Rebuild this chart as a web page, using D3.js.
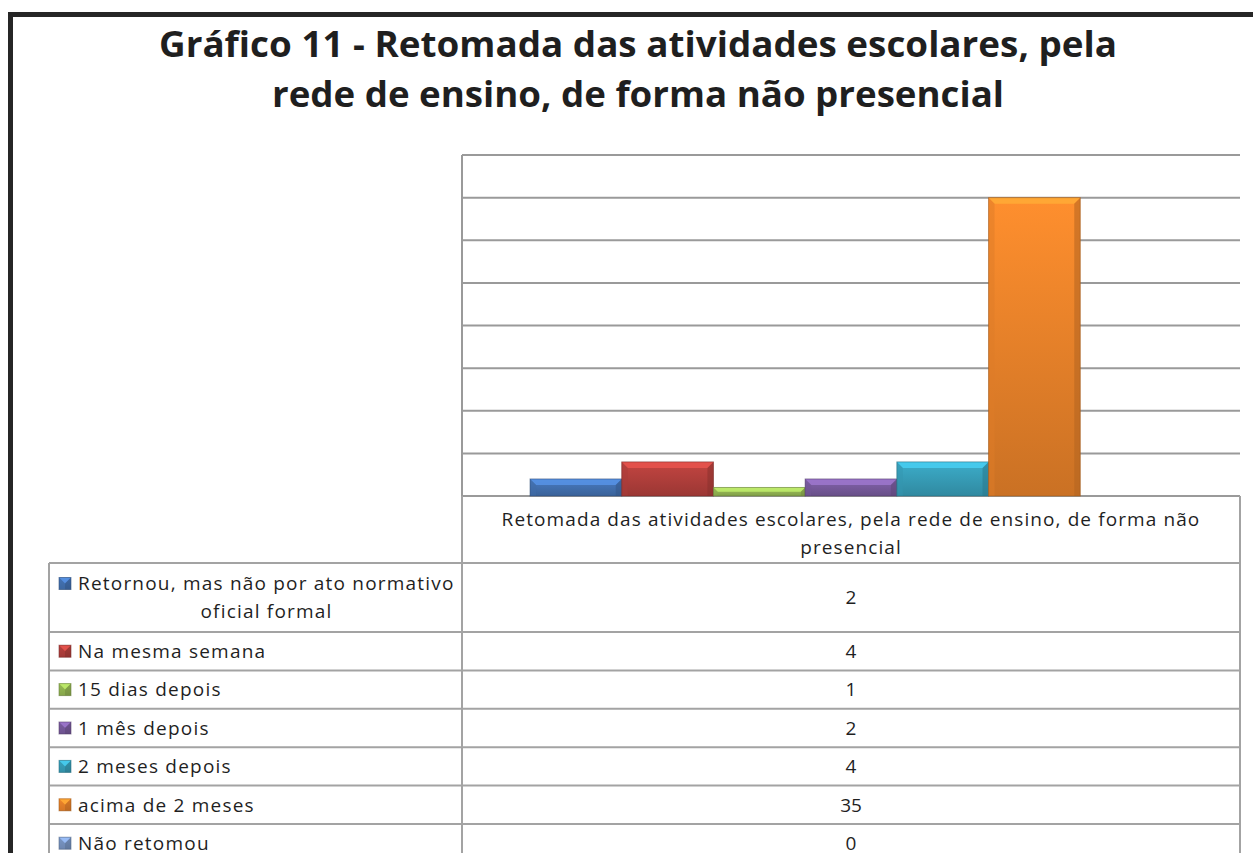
<!DOCTYPE html>
<html><head><meta charset="utf-8">
<script src="https://cdn.jsdelivr.net/npm/d3@7/dist/d3.min.js"></script>
<style>
html,body{margin:0;padding:0;background:#fff;overflow:hidden}
svg{display:block}
text{font-family:"Open Sans",sans-serif;fill:#1f1f1f}
</style></head><body>
<div id="chart"></div>
<script>
// Gráfico 11 — column chart with data table (Excel style)
const titleLines=["Gráfico 11 - Retomada das atividades escolares, pela","rede de ensino, de forma não presencial"];
const categoryName="Retomada das atividades escolares, pela rede de ensino, de forma não presencial";
const categoryLines=["Retomada das atividades escolares, pela rede de ensino, de forma não","presencial"];
const seriesLabels=[["Retornou, mas não por ato normativo","oficial formal"],["Na mesma semana"],["15 dias depois"],["1 mês depois"],["2 meses depois"],["acima de 2 meses"],["Não retomou"]];
const seriesValues=[2,4,1,2,4,35,0];
const seriesColors=["#4677BA","#BC433F","#9CC057","#7F60A6","#3AA7C3","#F68A2C","#7E9CCC"];
const yMax=40,yStep=5;

const W=1253,H=853;
const plot={l:462,r:1240,t:155,b:496};
const tableL=49,headerB=563,firstRowH=69,rowH=38.4;
const gridCol="#9a9a9a";

const svg=d3.select("#chart").append("svg").attr("width",W).attr("height",H);
const defs=svg.append("defs");

// outer frame (cropped on the right and bottom)
svg.append("path").attr("d","M10.5,"+H+"V14.5H"+W)
  .attr("fill","none").attr("stroke","#262626").attr("stroke-width",5);

// title
const titleG=svg.append("g");
const titleW=[958,732];
titleLines.forEach((t,i)=>{
  titleG.append("text").attr("x",638).attr("y",57+i*50)
    .attr("text-anchor","middle").attr("font-size","35px").attr("font-weight","700")
    .attr("fill","#111").attr("textLength",titleW[i]).attr("lengthAdjust","spacingAndGlyphs")
    .text(t);
});

// scales
const y=d3.scaleLinear().domain([0,yMax]).range([plot.b,plot.t]);
const x0=d3.scaleBand().domain([categoryName]).range([plot.l,plot.r]).paddingInner(0).paddingOuter(0.106);
const x1=d3.scaleBand().domain(d3.range(seriesValues.length)).range([0,x0.bandwidth()]);

// gridlines
svg.append("g").selectAll("line").data(d3.range(0,yMax+yStep,yStep)).enter().append("line")
  .attr("x1",plot.l).attr("x2",plot.r).attr("y1",d=>y(d)).attr("y2",d=>y(d))
  .attr("stroke",gridCol).attr("stroke-width",2);
svg.append("line").attr("x1",plot.l).attr("x2",plot.l).attr("y1",plot.t).attr("y2",plot.b)
  .attr("stroke",gridCol).attr("stroke-width",2);

// gradients
seriesColors.forEach((c,i)=>{
  const g=defs.append("linearGradient").attr("id","g"+i).attr("x1",0).attr("y1",0).attr("x2",0).attr("y2",1);
  g.append("stop").attr("offset","0%").attr("stop-color",d3.color(c).brighter(0.1));
  g.append("stop").attr("offset","100%").attr("stop-color",d3.color(c).darker(0.55));
});

function bevelBox(sel,xx,yy,w,h,i){
  const c=d3.color(seriesColors[i]);
  const b=Math.min(6,h/2,w/2);
  sel.append("rect").attr("x",xx).attr("y",yy).attr("width",w).attr("height",h).attr("fill","url(#g"+i+")");
  sel.append("polygon").attr("points",[[xx,yy],[xx+w,yy],[xx+w-b,yy+b],[xx+b,yy+b]].join(" "))
    .attr("fill",c.brighter(0.6)).attr("opacity",0.85);
  sel.append("polygon").attr("points",[[xx,yy],[xx+b,yy+b],[xx+b,yy+h],[xx,yy+h]].join(" "))
    .attr("fill",c.darker(0.3)).attr("opacity",0.5);
  sel.append("polygon").attr("points",[[xx+w,yy],[xx+w-b,yy+b],[xx+w-b,yy+h],[xx+w,yy+h]].join(" "))
    .attr("fill",c.darker(0.9)).attr("opacity",0.55);
  sel.append("rect").attr("x",xx).attr("y",yy).attr("width",w).attr("height",h)
    .attr("fill","none").attr("stroke",c.darker(1.3)).attr("stroke-opacity",0.55).attr("stroke-width",1);
}

// bars
const barsG=svg.append("g");
seriesValues.forEach((v,i)=>{
  if(v<=0)return;
  const bx=x0(categoryName)+x1(i),by=y(v),bh=y(0)-y(v);
  bevelBox(barsG.append("g"),bx,by,x1.bandwidth(),bh,i);
});

// data table
const tG=svg.append("g");
const line=(x1_,y1_,x2_,y2_)=>tG.append("line").attr("x1",x1_).attr("y1",y1_).attr("x2",x2_).attr("y2",y2_)
  .attr("stroke","#a3a3a3").attr("stroke-width",2);
line(plot.l,plot.b,plot.l,H);
line(plot.r,plot.b,plot.r,H);
line(tableL,headerB,tableL,H);
const rowTops=[headerB];
seriesValues.forEach((v,i)=>rowTops.push(rowTops[i]+(seriesLabels[i].length>1?firstRowH:rowH)));
rowTops.forEach(ry=>line(tableL,ry,plot.r,ry));

const midCol=(plot.l+plot.r)/2;
categoryLines.forEach((t,i)=>{
  tG.append("text").attr("x",midCol).attr("y",519+i*28).attr("dy","0.36em")
    .attr("text-anchor","middle").attr("font-size","19px").attr("letter-spacing","1.1px").text(t);
});

const labX0=78,labX1=455;
seriesValues.forEach((v,i)=>{
  const top=rowTops[i],bot=rowTops[i+1],cy=(top+bot)/2;
  const lines=seriesLabels[i];
  const ly0=lines.length>1?cy-14:cy;
  bevelBox(tG.append("g"),59,ly0-6,12,12,i);
  lines.forEach((t,k)=>{
    tG.append("text").attr("x",k===0?labX0:(labX0+labX1)/2).attr("y",ly0+k*28).attr("dy","0.36em")
      .attr("text-anchor",k===0?"start":"middle")
      .attr("font-size","19px").attr("letter-spacing","1.2px").text(t);
  });
  tG.append("text").attr("x",midCol).attr("y",cy).attr("dy","0.36em")
    .attr("text-anchor","middle").attr("font-size","19px").text(v);
});
</script>
</body></html>
